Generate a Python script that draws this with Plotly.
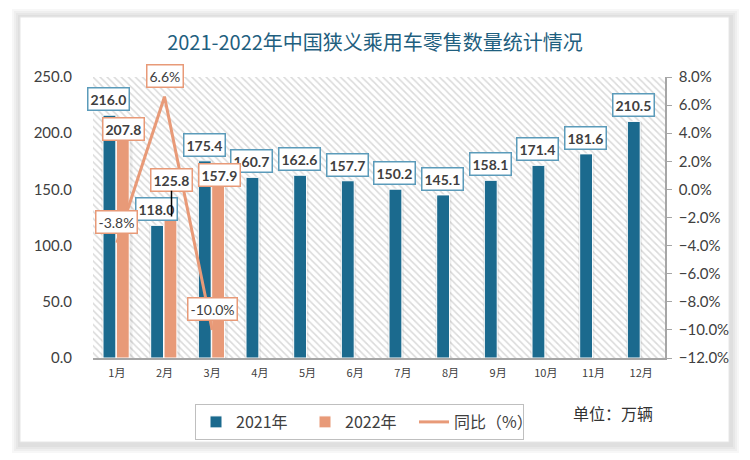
import plotly.graph_objects as go

months = ["1月", "2月", "3月", "4月", "5月", "6月", "7月", "8月", "9月", "10月", "11月", "12月"]
sales_2021 = [216.0, 118.0, 175.4, 160.7, 162.6, 157.7, 150.2, 145.1, 158.1, 171.4, 181.6, 210.5]
sales_2022 = [207.8, 125.8, 157.9]
yoy = [-3.8, 6.6, -10.0]

C21 = "#1B6A8E"
C22 = "#E89A78"
B21 = "#5B9BBA"
TXT = "#404040"
FONT = "Lato, 'Noto Sans CJK SC', sans-serif"
CJK = "'Noto Sans CJK SC', sans-serif"

# page offset of the figure (body margin) and plot-area geometry in page pixels
OFF = 8
PL, PR, PT, PB = 93, 665, 77, 358
PW, PH = PR - PL, PB - PT


def px(xp):
    return (xp - PL) / PW


def py(yp):
    return (PB - yp) / PH


fig = go.Figure()

# hatched plot background
fig.add_trace(go.Bar(x=[0.5], y=[1], width=[1], xaxis="x", yaxis="y",
                     marker=dict(color="white", line=dict(width=0),
                                 pattern=dict(shape="\\", fgcolor="#b5b5b5", bgcolor="white",
                                              size=5, solidity=0.3)),
                     showlegend=False, hoverinfo="skip"))

m22 = months[:len(sales_2022)]
# soft shadows
fig.add_trace(go.Bar(x=months, y=sales_2021, xaxis="x2", yaxis="y2", offset=-0.32, width=0.34,
                     marker=dict(color="rgba(90,90,90,0.10)", line=dict(width=0)),
                     showlegend=False, hoverinfo="skip"))
fig.add_trace(go.Bar(x=m22, y=sales_2022, xaxis="x2", yaxis="y2", offset=-0.03, width=0.36,
                     marker=dict(color="rgba(90,90,90,0.10)", line=dict(width=0)),
                     showlegend=False, hoverinfo="skip"))

fig.add_trace(go.Bar(x=months, y=sales_2021, name="2021年", xaxis="x2", yaxis="y2",
                     offset=-0.29, width=0.27,
                     marker=dict(color=C21, line=dict(color="white", width=1))))
fig.add_trace(go.Bar(x=m22, y=sales_2022, name="2022年", xaxis="x2", yaxis="y2",
                     offset=-0.01, width=0.27,
                     marker=dict(color=C22, line=dict(color="white", width=1))))
fig.add_trace(go.Scatter(x=m22, y=yoy, name="同比（%）", xaxis="x2", yaxis="y3",
                         mode="lines", line=dict(color=C22, width=3)))

anns = []
lab_font = dict(family=FONT, size=14, color=TXT)
for m, v in zip(months, sales_2021):
    anns.append(dict(x=m, y=v, xref="x2", yref="y2", text=f"<b>{v:.1f}</b>", showarrow=False,
                     xshift=-8, yshift=16, font=lab_font, bgcolor="white",
                     bordercolor=B21, borderwidth=1.5, borderpad=2))
shifts22 = [-5, 37, 6]
for m, v, ys in zip(m22, sales_2022, shifts22):
    if ys > 20:
        anns.append(dict(x=m, y=v, xref="x2", yref="y2", text=f"<b>{v:.1f}</b>", showarrow=True,
                         arrowhead=0, arrowwidth=1.5, arrowcolor="black", ax=0, ay=-ys,
                         xshift=7, font=lab_font, bgcolor="white",
                         bordercolor=C22, borderwidth=1.5, borderpad=2))
    else:
        anns.append(dict(x=m, y=v, xref="x2", yref="y2", text=f"<b>{v:.1f}</b>", showarrow=False,
                         xshift=7, yshift=ys, font=lab_font, bgcolor="white",
                         bordercolor=C22, borderwidth=1.5, borderpad=2))
for m, v in zip(m22, yoy):
    anns.append(dict(x=m, y=v, xref="x2", yref="y3", text=f"{v:.1f}%", showarrow=False,
                     yshift=21, font=dict(family=FONT, size=14, color=TXT), bgcolor="white",
                     bordercolor=C22, borderwidth=1.5, borderpad=2))
anns.append(dict(x=px(655), y=py(427), xref="paper", yref="paper", text="单位：万辆",
                 showarrow=False, font=dict(family=CJK, size=16, color="#333333")))

# card with shadow
shapes = []
x0, x1 = px(20), px(729)
y0, y1 = py(442), py(17)
for i in range(4):
    d = (4 - i) * 2
    shapes.append(dict(type="rect", xref="paper", yref="paper", layer="below",
                       x0=x0 - d / PW, x1=x1 + (d + 2) / PW, y0=y0 - (d + 3) / PH, y1=y1 + d / PH,
                       fillcolor="rgba(0,0,0,0.03)", line=dict(width=0)))
shapes.append(dict(type="rect", xref="paper", yref="paper", layer="below",
                   x0=x0, x1=x1, y0=y0, y1=y1, fillcolor="white",
                   line=dict(color="#e6e6e6", width=1)))

fig.update_layout(
    width=750, height=460,
    margin=dict(l=PL - OFF, r=750 - (PR - OFF), t=PT - OFF, b=460 - (PB - OFF)),
    paper_bgcolor="white", plot_bgcolor="rgba(0,0,0,0)",
    barmode="overlay",
    title=dict(text="2021-2022年中国狭义乘用车零售数量统计情况", x=(375 - OFF) / 750,
               xanchor="center", y=1 - (43 - OFF) / 460, yanchor="middle", yref="container",
               font=dict(family=CJK, size=20, color="#1F5F7F")),
    xaxis=dict(range=[0, 1], visible=False, fixedrange=True),
    yaxis=dict(range=[0, 1], visible=False, fixedrange=True),
    xaxis2=dict(overlaying="x", anchor="y2", side="bottom", type="category",
                range=[-0.5, 11.5], showline=True, linecolor="#a6a6a6", linewidth=2,
                ticks="", showgrid=False, ticklabelstandoff=4,
                tickfont=dict(family=CJK, size=11, color=TXT)),
    yaxis2=dict(overlaying="y", anchor="x2", side="left", range=[0, 250], dtick=50,
                tickformat=".1f", showgrid=False, zeroline=False, showline=False,
                ticklabelstandoff=20,
                tickfont=dict(family=FONT, size=15, color=TXT)),
    yaxis3=dict(overlaying="y", anchor="x2", side="right", range=[-12, 8], dtick=2,
                tickformat=".1f", ticksuffix="%", showgrid=False, zeroline=False,
                showline=True, linecolor="#a6a6a6", linewidth=1.5,
                ticks="outside", ticklen=5, tickcolor="#a6a6a6", ticklabelstandoff=4,
                tickfont=dict(family=FONT, size=15, color=TXT)),
    legend=dict(orientation="h", x=px(195), y=py(404),
                xanchor="left", yanchor="top", bordercolor="#bfbfbf", borderwidth=1,
                bgcolor="white", font=dict(family=CJK, size=16, color=TXT),
                itemwidth=30, entrywidth=64, entrywidthmode="pixels", traceorder="normal"),
    annotations=anns,
    shapes=shapes,
    showlegend=True,
)

fig.write_html("out.html")
